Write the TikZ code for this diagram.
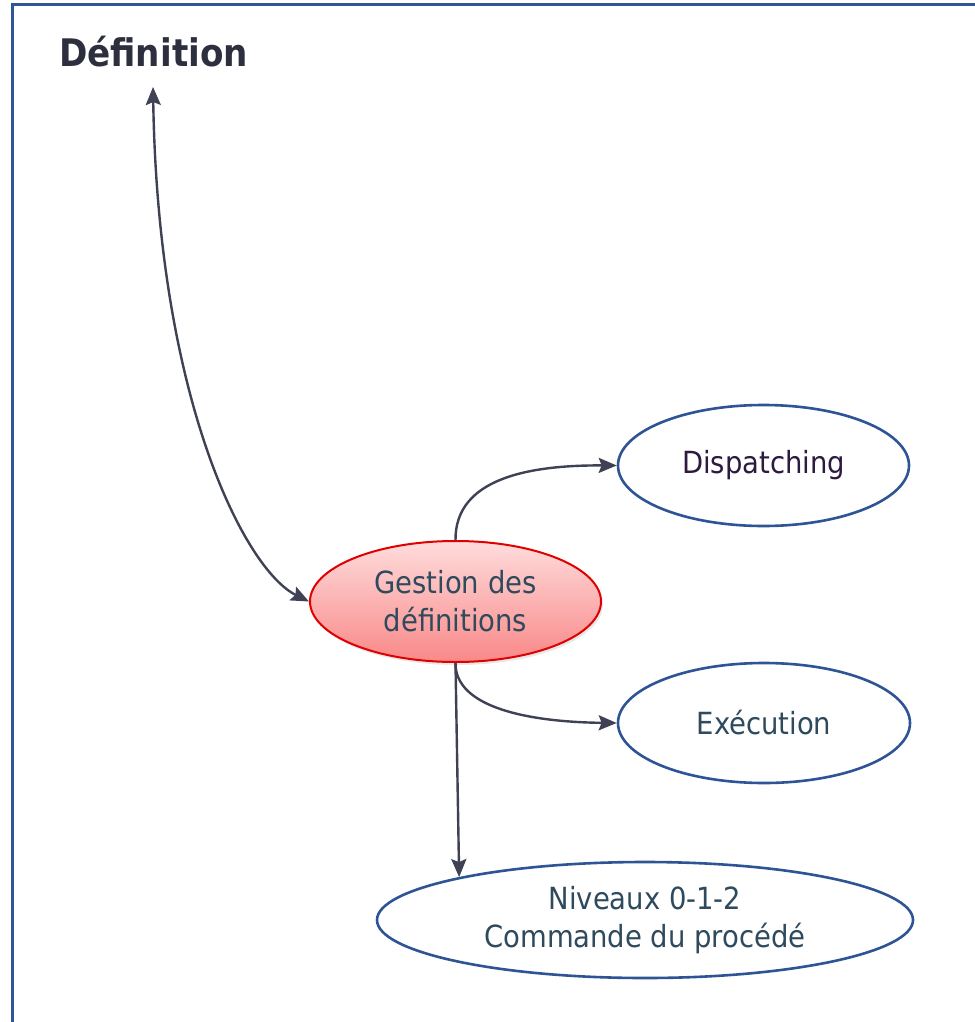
\documentclass[tikz,border=0pt]{standalone}
\usepackage{fontspec}
\setmainfont{DejaVu Sans Condensed}
\usetikzlibrary{shapes.geometric,arrows.meta,shadows}
\definecolor{framecol}{HTML}{2F5597}
\definecolor{edgecol}{HTML}{2F5496}
\definecolor{linkcol}{HTML}{3F4255}
\definecolor{titlecol}{HTML}{2D2F3F}
\definecolor{textcol}{HTML}{2E4A5C}
\definecolor{dispcol}{HTML}{2E1A3F}
\definecolor{pinktop}{HTML}{FFDCDC}
\definecolor{pinkbot}{HTML}{F98888}
\definecolor{redline}{HTML}{E00000}
\tikzset{
  framebox/.style={draw=framecol,line width=3pt},
  oval/.style={shape=ellipse,draw=edgecol,line width=2.6pt,fill=white,inner sep=0pt,
    align=center,text=textcol,font=\fontsize{30.5}{38}\selectfont},
  hub/.style={oval,draw=redline,line width=2pt,top color=pinktop,bottom color=pinkbot,
    drop shadow={opacity=0.18,shadow xshift=2pt,shadow yshift=-3pt}},
  link/.style={draw=linkcol,line width=2.4pt,-{Stealth[length=18pt,width=15pt,inset=3pt]}},
  biglink/.style={draw=linkcol,line width=2.4pt,
    {Stealth[length=18pt,width=15pt,inset=3pt]}-{Stealth[length=18pt,width=15pt,inset=3pt]}}
}
\begin{document}
\begin{tikzpicture}[x=1pt,y=-1pt]
\useasboundingbox (0,0) rectangle (974,1022);
\fill[white] (0,0) rectangle (974,1022);
% outer frame, running off the page on the right and at the bottom
\draw[framebox] (12,1030) -- (12,5) -- (980,5);

% title
\node[anchor=base,text=titlecol,font=\fontsize{38}{44}\selectfont\bfseries,inner sep=0pt]
  (title) at (153.5,67) {Définition};
\coordinate (deftip) at (153,87);

% ellipses
\node[hub,minimum width=291pt,minimum height=121pt] (gest) at (455.5,601.5) {Gestion des\\définitions};
\node[oval,minimum width=291pt,minimum height=121pt,text=dispcol] (disp) at (763.5,465.5) {Dispatching};
\node[oval,minimum width=292pt,minimum height=120pt] (exec) at (764,723) {Exécution};
\node[oval,minimum width=536pt,minimum height=116pt] (niv) at (645,920) {Niveaux 0-1-2\\Commande du procédé};

% connectors
\draw[biglink] (deftip) .. controls (158,400) and (245,570) .. (gest.west);
\draw[link] (gest.north) .. controls (455,478) and (530,465) .. (disp.west);
\draw[link] (gest.south) .. controls (455,708) and (530,722) .. (exec.west);
\draw[link] (gest.south) -- (niv.167.3);
\end{tikzpicture}
\end{document}
